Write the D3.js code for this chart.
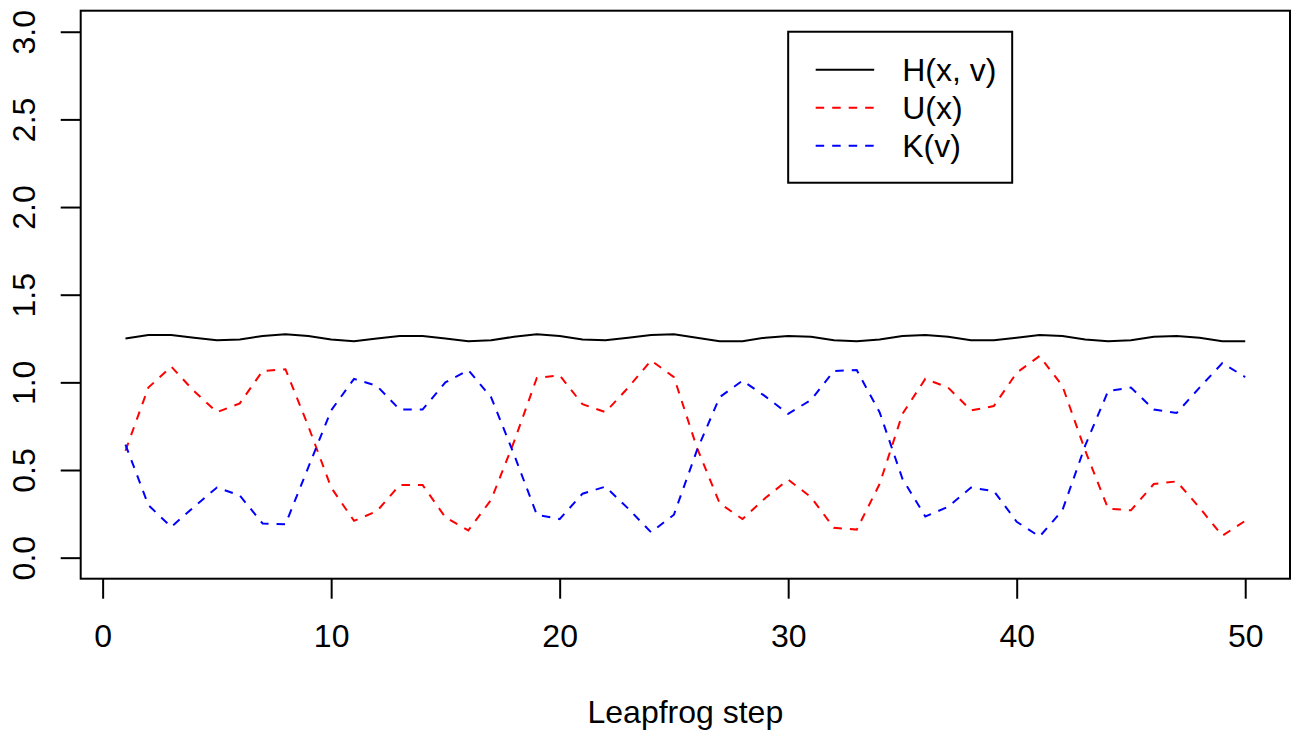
<!DOCTYPE html>
<html>
<head>
<meta charset="utf-8">
<script src="https://cdn.jsdelivr.net/npm/d3@7"></script>
<style>
  body { margin: 0; background: #fff; }
  svg text { font-family: "Liberation Sans", Arial, Helvetica, sans-serif; }
</style>
</head>
<body>
<div class="canvas"></div>
<script>
const steps = d3.range(1, 51);

const energyH = [
  1.25, 1.27, 1.27, 1.255, 1.24, 1.245, 1.265, 1.275, 1.265, 1.245,
  1.235, 1.25, 1.265, 1.265, 1.25, 1.235, 1.24, 1.26, 1.275, 1.265,
  1.245, 1.24, 1.255, 1.27, 1.275, 1.255, 1.235, 1.235, 1.255, 1.265,
  1.26, 1.24, 1.235, 1.245, 1.265, 1.27, 1.26, 1.24, 1.24, 1.255,
  1.27, 1.265, 1.245, 1.235, 1.24, 1.26, 1.265, 1.255, 1.235, 1.235
];

const energyU = [
  0.61, 0.97, 1.09, 0.95, 0.83, 0.88, 1.065, 1.075, 0.75, 0.40,
  0.21, 0.265, 0.415, 0.415, 0.23, 0.155, 0.33, 0.66, 1.025, 1.04,
  0.875, 0.83, 0.97, 1.125, 1.03, 0.63, 0.31, 0.22, 0.34, 0.445,
  0.345, 0.17, 0.16, 0.42, 0.82, 1.02, 0.97, 0.84, 0.865, 1.055,
  1.15, 0.98, 0.61, 0.28, 0.27, 0.42, 0.435, 0.285, 0.125, 0.21
];

const energyK = [
  0.645, 0.30, 0.175, 0.29, 0.40, 0.355, 0.195, 0.19, 0.515, 0.84,
  1.02, 0.98, 0.845, 0.845, 1.00, 1.07, 0.915, 0.59, 0.245, 0.22,
  0.365, 0.405, 0.28, 0.145, 0.245, 0.61, 0.915, 1.01, 0.92, 0.82,
  0.9, 1.065, 1.07, 0.83, 0.45, 0.235, 0.29, 0.40, 0.38, 0.205,
  0.12, 0.27, 0.64, 0.95, 0.97, 0.845, 0.825, 0.97, 1.11, 1.03
];

const xTicks = [0, 10, 20, 30, 40, 50];
const yTicks = [0, 0.5, 1, 1.5, 2, 2.5, 3];

const legendLabels = ["H(x, v)", "U(x)", "K(v)"];
const legendColors = ["black", "red", "blue"];
const legendDash = [null, "8.5,8", "8.5,8"];

const width = 1292, height = 734;
const margin = { top: 10.7, right: 2, bottom: 155.3, left: 80.7 };
const fontSize = 32;

const svg = d3.select(".canvas").append("svg")
  .attr("width", width)
  .attr("height", height);

// R style: data range padded by 4% on each side
const x = d3.scaleLinear().domain([-0.96, 51.96]).range([margin.left, width - margin.right]);
const y = d3.scaleLinear().domain([-0.12, 3.12]).range([height - margin.bottom, margin.top]);

// plot box
svg.append("rect")
  .attr("x", x.range()[0]).attr("y", y.range()[1])
  .attr("width", x.range()[1] - x.range()[0])
  .attr("height", y.range()[0] - y.range()[1])
  .attr("fill", "none").attr("stroke", "black").attr("stroke-width", 2);

// x axis
const xAxisGroup = svg.append("g")
  .attr("transform", `translate(0,${y.range()[0]})`)
  .call(d3.axisBottom(x).tickValues(xTicks).tickSize(20).tickPadding(25.6).tickFormat(d3.format("d")));
xAxisGroup.select(".domain").remove();
xAxisGroup.selectAll("line").attr("stroke", "black").attr("stroke-width", 2);
xAxisGroup.selectAll("text").attr("font-size", fontSize).attr("fill", "black")
  .attr("font-family", null);

// y axis, labels rotated like R's las=0
const yAxisGroup = svg.append("g")
  .attr("transform", `translate(${x.range()[0]},0)`)
  .call(d3.axisLeft(y).tickValues(yTicks).tickSize(20).tickFormat(d3.format(".1f")));
yAxisGroup.select(".domain").remove();
yAxisGroup.selectAll("line").attr("stroke", "black").attr("stroke-width", 2);
yAxisGroup.selectAll("text")
  .attr("x", null).attr("dy", null)
  .attr("text-anchor", "middle")
  .attr("transform", `translate(${35 - margin.left},0) rotate(-90)`)
  .attr("font-size", fontSize).attr("fill", "black")
  .attr("font-family", null);

// x label
svg.append("text")
  .attr("x", (x.range()[0] + x.range()[1]) / 2)
  .attr("y", 723)
  .attr("text-anchor", "middle")
  .attr("font-size", fontSize)
  .text("Leapfrog step");

// lines
const series = [energyH, energyU, energyK];
series.forEach((vals, i) => {
  const line = d3.line().x((d, j) => x(steps[j])).y(d => y(d));
  svg.append("path")
    .datum(vals)
    .attr("fill", "none")
    .attr("stroke", legendColors[i])
    .attr("stroke-width", 2)
    .attr("stroke-dasharray", legendDash[i])
    .attr("d", line);
});

// legend, top-left corner at (30, 3) in data units
const legendX = x(30), legendY = y(3);
const legend = svg.append("g").attr("transform", `translate(${legendX},${legendY})`);
legend.append("rect")
  .attr("width", 224).attr("height", 151)
  .attr("fill", "white").attr("stroke", "black").attr("stroke-width", 2);

legendLabels.forEach((lab, i) => {
  const ry = 38 + i * 38;
  legend.append("line")
    .attr("x1", 27.5).attr("x2", 86)
    .attr("y1", ry).attr("y2", ry)
    .attr("stroke", legendColors[i]).attr("stroke-width", 2)
    .attr("stroke-dasharray", legendDash[i]);
  legend.append("text")
    .attr("x", 114).attr("y", ry)
    .attr("dy", "0.35em")
    .attr("font-size", fontSize)
    .text(lab);
});
</script>
</body>
</html>
